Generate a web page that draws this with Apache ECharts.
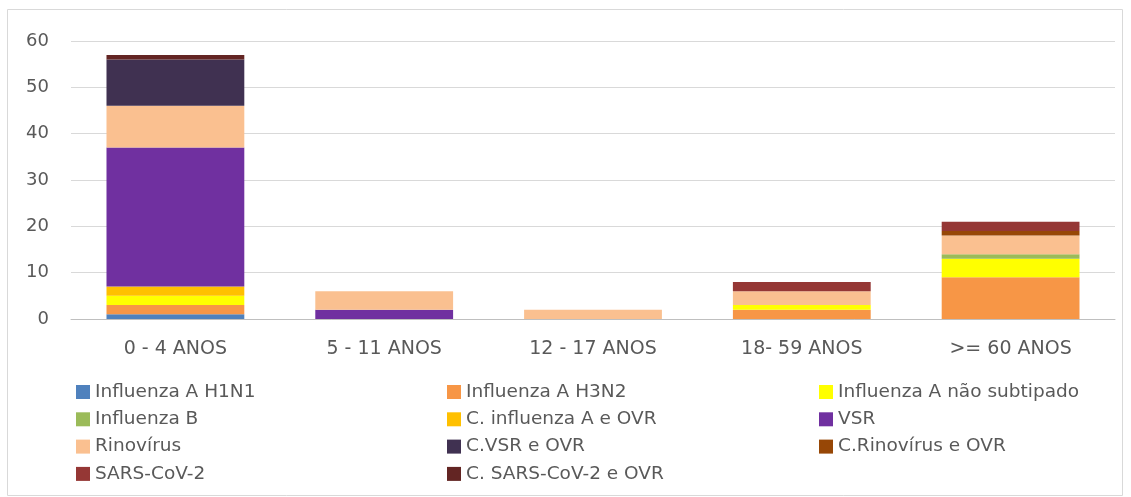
<!DOCTYPE html>
<html>
<head>
<meta charset="utf-8">
<script src="https://cdn.jsdelivr.net/npm/echarts@6/dist/echarts.min.js"></script>
<style>
  html, body { margin: 0; padding: 0; background: #fff; }
  #chart { width: 1131px; height: 497px; }
</style>
</head>
<body>
<div id="chart"></div>
<script>
// categorias (faixas etárias)
var categories = ['0 - 4 ANOS', '5 - 11 ANOS', '12 - 17 ANOS', '18- 59 ANOS', '>= 60 ANOS'];

// valores por vírus
var h1n1       = [1, 0, 0, 0, 0];
var h3n2       = [2, 0, 0, 2, 9];
var naoSubtip  = [2, 0, 0, 1, 4];
var influB     = [0, 0, 0, 0, 1];
var cInfluA    = [2, 0, 0, 0, 0];
var vsr        = [30, 2, 0, 0, 0];
var rinovirus  = [9, 4, 2, 3, 4];
var cVsr       = [10, 0, 0, 0, 0];
var cRinovirus = [0, 0, 0, 0, 1];
var sarsCov2   = [0, 0, 0, 2, 2];
var cSarsCov2  = [1, 0, 0, 0, 0];

var yTicks = [0, 10, 20, 30, 40, 50, 60];

var seriesDefs = [
  { name: 'Influenza A H1N1', data: h1n1, color: '#4F81BD' },
  { name: 'Influenza A H3N2', data: h3n2, color: '#F79646' },
  { name: 'Influenza A não subtipado', data: naoSubtip, color: '#FFFF00' },
  { name: 'Influenza B', data: influB, color: '#9BBB59' },
  { name: 'C. influenza A e OVR', data: cInfluA, color: '#FFC000' },
  { name: 'VSR', data: vsr, color: '#7030A0' },
  { name: 'Rinovírus', data: rinovirus, color: '#FAC090' },
  { name: 'C.VSR e OVR', data: cVsr, color: '#403151' },
  { name: 'C.Rinovírus e OVR', data: cRinovirus, color: '#974706' },
  { name: 'SARS-CoV-2', data: sarsCov2, color: '#953735' },
  { name: 'C. SARS-CoV-2 e OVR', data: cSarsCov2, color: '#632523' }
];

var font = 'DejaVu Sans';
var textColor = '#595959';

// legenda em 3 colunas
function legendCol(left, names) {
  return {
    orient: 'vertical',
    left: left,
    top: 382,
    padding: 0,
    itemWidth: 14,
    itemHeight: 14,
    itemGap: 7.3,
    icon: 'rect',
    data: names,
    textStyle: { fontFamily: font, fontSize: 18.5, color: textColor, lineHeight: 20 }
  };
}

var chart = echarts.init(document.getElementById('chart'));
chart.setOption({
  animation: false,
  grid: { left: 71, right: 16, top: 41, bottom: 178 },
  graphic: [{
    type: 'rect',
    silent: true,
    shape: { x: 7.5, y: 9.5, width: 1115, height: 486 },
    style: { fill: 'none', stroke: '#D9D9D9', lineWidth: 1 }
  }],
  legend: [
    legendCol(76, ['Influenza A H1N1', 'Influenza B', 'Rinovírus', 'SARS-CoV-2']),
    legendCol(447, ['Influenza A H3N2', 'C. influenza A e OVR', 'C.VSR e OVR', 'C. SARS-CoV-2 e OVR']),
    legendCol(819, ['Influenza A não subtipado', 'VSR', 'C.Rinovírus e OVR'])
  ],
  xAxis: {
    type: 'category',
    data: categories,
    axisTick: { show: false },
    axisLine: { lineStyle: { color: '#BFBFBF', width: 1 } },
    axisLabel: { fontFamily: font, fontSize: 19, color: textColor, margin: 21 }
  },
  yAxis: {
    type: 'value',
    min: yTicks[0],
    max: yTicks[yTicks.length - 1],
    interval: 10,
    axisLine: { show: false },
    axisTick: { show: false },
    splitLine: { lineStyle: { color: '#D9D9D9', width: 1 } },
    axisLabel: { fontFamily: font, fontSize: 18, color: textColor, margin: 22 }
  },
  series: seriesDefs.map(function (s) {
    return {
      name: s.name,
      type: 'bar',
      stack: 'total',
      barWidth: '66%',
      data: s.data,
      itemStyle: { color: s.color }
    };
  })
});
</script>
</body>
</html>
